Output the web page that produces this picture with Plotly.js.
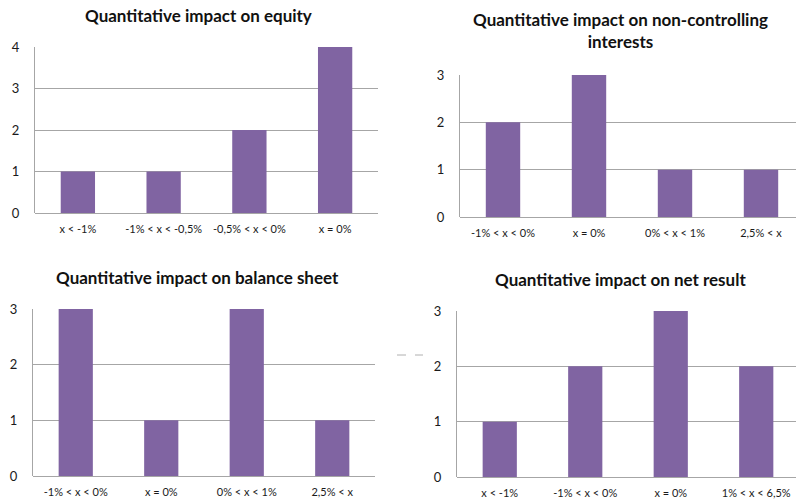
<!DOCTYPE html>
<html>
<head>
<meta charset="utf-8">
<script src="https://cdn.plot.ly/plotly-3.0.1.min.js"></script>
<style>
  html, body { margin: 0; padding: 0; background: #ffffff; overflow: hidden; }
  #chart { width: 796px; height: 501px; }
</style>
</head>
<body>
<div id="chart"></div>
<script>
// Distribution of companies by size of impact, four measures
const equityCategories = ["x < -1%", "-1% < x < -0,5%", "-0,5% < x < 0%", "x = 0%"];
const equityCounts = [1, 1, 2, 4];

const nciCategories = ["-1% < x < 0%", "x = 0%", "0% < x < 1%", "2,5% < x"];
const nciCounts = [2, 3, 1, 1];

const balanceCategories = ["-1% < x < 0%", "x = 0%", "0% < x < 1%", "2,5% < x"];
const balanceCounts = [3, 1, 3, 1];

const netResultCategories = ["x < -1%", "-1% < x < 0%", "x = 0%", "1% < x < 6,5%"];
const netResultCounts = [1, 2, 3, 2];

const panelTitles = [
  "Quantitative impact on equity",
  "Quantitative impact on non-controlling<br>interests",
  "Quantitative impact on balance sheet",
  "Quantitative impact on net result"
];

const W = 796, H = 501;
const barColor = "#8064A2";
const gridColor = "#a6a6a6";
const fontFamily = "Lato, 'Open Sans', sans-serif";

function px(x) { return x / W; }
function py(y) { return 1 - y / H; }

function bar(cats, vals, n) {
  const suffix = n === 1 ? "" : String(n);
  return {
    type: "bar",
    x: cats,
    y: vals,
    xaxis: "x" + suffix,
    yaxis: "y" + suffix,
    marker: { color: barColor, line: { width: 0 } },
    hoverinfo: "x+y",
    showlegend: false
  };
}

function xAxis(left, right, range, anchor) {
  return {
    domain: [px(left), Math.min(1, px(right))],
    range: range,
    anchor: anchor,
    type: "category",
    showgrid: false,
    showline: false,
    zeroline: false,
    ticks: "",
    ticklabelstandoff: 8,
    tickfont: { family: fontFamily, size: 11, color: "#1a1a1a" },
    fixedrange: true
  };
}

function yAxis(top, bottom, maxVal, anchor) {
  return {
    domain: [py(bottom), py(top)],
    range: [0, maxVal],
    anchor: anchor,
    dtick: 1,
    showgrid: true,
    gridcolor: gridColor,
    gridwidth: 1,
    zeroline: true,
    zerolinecolor: gridColor,
    zerolinewidth: 1,
    showline: true,
    linecolor: gridColor,
    linewidth: 1,
    ticks: "",
    ticklabelstandoff: 12,
    tickfont: { family: fontFamily, size: 13, color: "#1a1a1a" },
    fixedrange: true
  };
}

const data = [
  bar(equityCategories, equityCounts, 1),
  bar(nciCategories, nciCounts, 2),
  bar(balanceCategories, balanceCounts, 3),
  bar(netResultCategories, netResultCounts, 4)
];

function titleAnn(text, cx, cy) {
  return {
    text: "<b>" + text + "</b>",
    xref: "paper", yref: "paper",
    x: px(cx), y: py(cy),
    xanchor: "center", yanchor: "middle",
    showarrow: false,
    font: { family: fontFamily, size: 17, color: "#111111" },
    align: "center"
  };
}

const layout = {
  width: W,
  height: H,
  margin: { l: 0, r: 0, t: 0, b: 0 },
  paper_bgcolor: "#ffffff",
  plot_bgcolor: "#ffffff",
  bargap: 0.6,
  xaxis: xAxis(35, 378, [-0.5, 3.5], "y"),
  yaxis: yAxis(47, 213, 4, "x"),
  xaxis2: xAxis(460, 796, [-0.5, 3.407], "y2"),
  yaxis2: yAxis(75, 217, 3, "x2"),
  xaxis3: xAxis(33, 375, [-0.5, 3.5], "y3"),
  yaxis3: yAxis(309, 476, 3, "x3"),
  xaxis4: xAxis(457, 796, [-0.5, 3.465], "y4"),
  yaxis4: yAxis(311, 477, 3, "x4"),
  annotations: [
    titleAnn(panelTitles[0], 198, 15),
    titleAnn(panelTitles[1], 620, 31),
    titleAnn(panelTitles[2], 197, 277),
    titleAnn(panelTitles[3], 620, 279)
  ],
  shapes: [
    {
      type: "line", xref: "paper", yref: "paper",
      x0: px(397), x1: px(423), y0: py(355), y1: py(355),
      line: { color: "#b0b0b0", width: 1, dash: "dash" }
    }
  ]
};

Plotly.newPlot("chart", data, layout, { displayModeBar: false, staticPlot: true });
</script>
</body>
</html>
